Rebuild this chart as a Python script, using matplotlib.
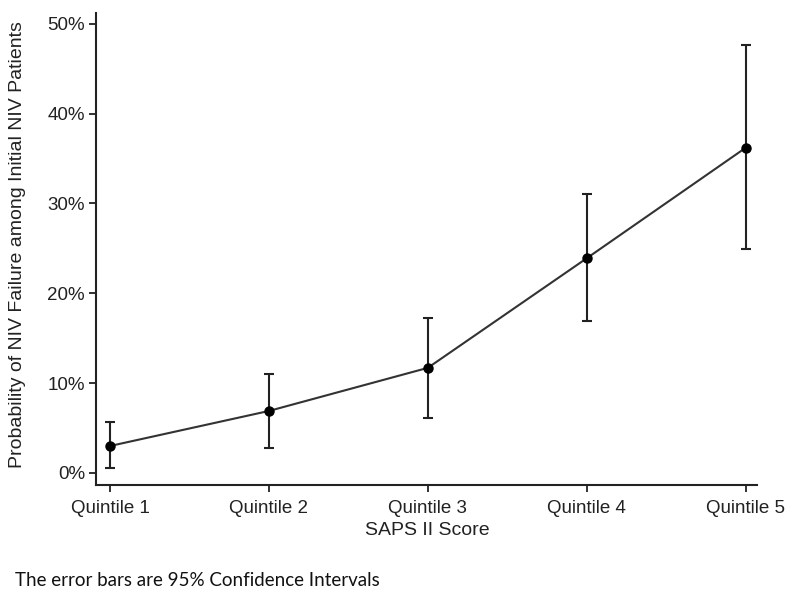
import numpy as np
import matplotlib.pyplot as plt

# Значения (в процентах)
quintiles = ["Quintile 1", "Quintile 2", "Quintile 3", "Quintile 4", "Quintile 5"]
prob = [3.0, 6.9, 11.7, 23.9, 36.2]
ci_low = [0.55, 2.8, 6.1, 16.9, 24.9]
ci_high = [5.7, 11.0, 17.3, 31.0, 47.6]
yticks = [0, 10, 20, 30, 40, 50]

plt.rcParams['font.family'] = ['Liberation Sans', 'DejaVu Sans']

x = np.arange(1, len(quintiles) + 1)
prob = np.array(prob)
yerr = [prob - np.array(ci_low), np.array(ci_high) - prob]

fig = plt.figure(figsize=(8, 6), dpi=100)
ax = fig.add_axes([0.12, 0.1917, 0.826, 0.7866])

ax.errorbar(x, prob, yerr=yerr, fmt='-o', color='#333333', ecolor='#222222',
            mfc='black', mec='black', markersize=6.5, lw=1.5, elinewidth=1.5,
            capsize=3.8, capthick=1.5)

ax.set_xlim(0.912, 5.07)
ax.set_ylim(-1.34, 51.2)
ax.set_xticks(x)
ax.set_xticklabels(quintiles)
ax.set_yticks(yticks)
ax.set_yticklabels([f"{v}%" for v in yticks])

ax.spines['top'].set_visible(False)
ax.spines['right'].set_visible(False)
for s in ['left', 'bottom']:
    ax.spines[s].set_linewidth(1.5)
    ax.spines[s].set_color('#222222')
ax.tick_params(axis='both', length=5, width=1.3, color='#222222',
               labelsize=13.5, labelcolor='#222222')
ax.tick_params(axis='x', pad=5.5)
ax.tick_params(axis='y', pad=3)

# подписи осей
fig.text(427 / 800, (600 - 535) / 600, "SAPS II Score", fontsize=14,
         color='#222222', ha='center', va='baseline')
fig.text(18 / 800, (600 - 245) / 600,
         "Probability of NIV Failure among Initial NIV Patients",
         fontsize=14, color='#222222', ha='center', va='center', rotation=90)

fig.text(0.019, 14 / 600, "The error bars are 95% Confidence Intervals",
         fontsize=13.5, family=['Lato', 'DejaVu Sans'], color='#111111',
         va='baseline')

fig.savefig("out.png", dpi=100)
